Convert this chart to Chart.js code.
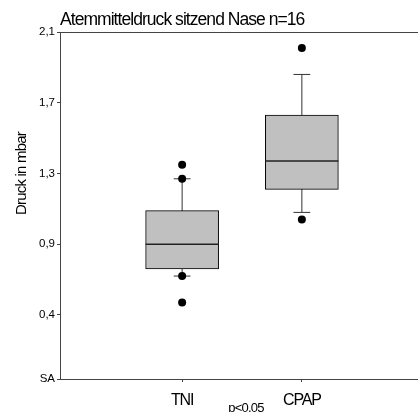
<!DOCTYPE html>
<html>
<head>
<meta charset="utf-8">
<script src="https://cdn.jsdelivr.net/npm/chart.js@4/dist/chart.umd.min.js"></script>
<style>
  html, body { margin: 0; padding: 0; background: #fff; }
  #wrap { width: 418px; height: 412px; }
</style>
</head>
<body>
<div id="wrap"><canvas id="chart"></canvas></div>
<script>
// box plot data (axis units)
const groups = ["TNI", "CPAP"];
const groupPos = [1, 2];
const q1 = [0.76, 1.21];
const median = [0.90, 1.37];
const q3 = [1.09, 1.63];
const whiskerLow = [0.72, 1.08];
const whiskerHigh = [1.27, 1.86];
const outliers = [
    [1.35, 1.27, 0.72, 0.57],
    [2.01, 1.04]
];

const yTickValues = [0.138, 0.5, 0.9, 1.3, 1.7, 2.1];
const yTickLabels = ["SA", "0,4", "0,9", "1,3", "1,7", "2,1"];

const chartTitle = "Atemmitteldruck sitzend Nase n=16";
const yTitle = "Druck in mbar";
const pNote = "p<0.05";

const FONT = "'Liberation Sans', Arial, sans-serif";
const AXIS = "#444";

// linear scale that draws its texts with tighter letter spacing
class SpacedScale extends Chart.LinearScale {
    draw(area) {
        this.ctx.letterSpacing = this.options.letterSpacing || "0px";
        super.draw(area);
        this.ctx.letterSpacing = "0px";
    }
}
SpacedScale.id = "spaced";
SpacedScale.defaults = Chart.LinearScale.defaults;
Chart.register(SpacedScale);

function segments(list) {
    // flatten [[p1, p2], ...] into one line with gaps between the pieces
    let out = [];
    list.forEach(function(seg) {
        out.push(seg[0], seg[1], {x: seg[1].x, y: null});
    });
    return out;
}

let boxData = groupPos.map(function(x, i) {
    return {x: x, y: [q1[i], q3[i]]};
});
let whiskerData = segments(groupPos.map(function(x, i) {
    return [{x: x, y: whiskerLow[i]}, {x: x, y: whiskerHigh[i]}];
}));
let capData = segments([].concat.apply([], groupPos.map(function(x, i) {
    return [
        [{x: x - 0.07, y: whiskerLow[i]}, {x: x + 0.07, y: whiskerLow[i]}],
        [{x: x - 0.07, y: whiskerHigh[i]}, {x: x + 0.07, y: whiskerHigh[i]}]
    ];
})));
let medianData = segments(groupPos.map(function(x, i) {
    return [{x: x - 0.305, y: median[i]}, {x: x + 0.305, y: median[i]}];
}));
let outlierData = [];
outliers.forEach(function(list, i) {
    list.forEach(function(v) {
        outlierData.push({x: groupPos[i], y: v});
    });
});

const textPlugin = {
    id: "extraText",
    afterDraw(chart) {
        let ctx = chart.ctx;
        let xs = chart.scales.x;
        let ys = chart.scales.y;
        ctx.save();
        ctx.fillStyle = "#000";
        ctx.letterSpacing = "-0.8px";
        ctx.textAlign = "center";
        ctx.textBaseline = "alphabetic";
        ctx.font = "15px " + FONT;
        ctx.translate(26, ys.getPixelForValue(1.30));
        ctx.rotate(-Math.PI / 2);
        ctx.fillText(yTitle, 0, 0);
        ctx.restore();

        ctx.save();
        ctx.fillStyle = "#000";
        ctx.letterSpacing = "-0.8px";
        ctx.textAlign = "center";
        ctx.textBaseline = "alphabetic";
        ctx.font = "13px " + FONT;
        ctx.fillText(pNote, xs.getPixelForValue(1.5) + 4, 412);
        ctx.restore();
    }
};

let ctx = document.getElementById("chart").getContext("2d");
let chart = new Chart(ctx, {
    type: "bar",
    data: {
        datasets: [
            {
                type: "line",
                data: whiskerData,
                borderColor: "#333",
                borderWidth: 1,
                pointRadius: 0,
                spanGaps: false,
                order: 4
            },
            {
                type: "bar",
                data: boxData,
                backgroundColor: "#c0c0c0",
                borderColor: "#000",
                borderWidth: 1,
                borderSkipped: false,
                barThickness: 73,
                order: 3
            },
            {
                type: "line",
                data: medianData,
                borderColor: "#222",
                borderWidth: 1.5,
                pointRadius: 0,
                spanGaps: false,
                order: 2
            },
            {
                type: "line",
                data: capData,
                borderColor: "#333",
                borderWidth: 1,
                pointRadius: 0,
                spanGaps: false,
                order: 1
            },
            {
                type: "scatter",
                data: outlierData,
                backgroundColor: "#000",
                borderWidth: 0,
                pointRadius: 4,
                order: 0
            }
        ]
    },
    options: {
        responsive: true,
        maintainAspectRatio: false,
        animation: false,
        layout: { padding: 0, autoPadding: false },
        plugins: {
            legend: { display: false },
            tooltip: { enabled: false }
        },
        scales: {
            x: {
                type: "spaced",
                position: "bottom",
                offset: false,
                min: -0.02,
                max: 2.97,
                letterSpacing: "-1.2px",
                afterBuildTicks: function(scale) {
                    scale.ticks = groupPos.map(function(v) { return {value: v}; });
                },
                afterFit: function(scale) { scale.height = 33; },
                ticks: {
                    color: "#000",
                    font: { family: FONT, size: 16 },
                    padding: 9,
                    maxRotation: 0,
                    callback: function(v, i) { return groups[i]; }
                },
                grid: { offset: false, drawOnChartArea: false, drawTicks: true, tickLength: 3, color: AXIS },
                border: { color: AXIS, width: 1 }
            },
            top: {
                type: "spaced",
                position: "top",
                offset: false,
                min: -0.02,
                max: 2.97,
                letterSpacing: "-0.95px",
                afterFit: function(scale) { scale.height = 32; },
                ticks: { display: false },
                grid: { display: false, offset: false },
                border: { display: true, color: AXIS, width: 1 },
                title: {
                    display: true,
                    text: chartTitle,
                    align: "start",
                    color: "#000",
                    font: { family: FONT, size: 17.5 },
                    padding: { top: 10, bottom: 0 }
                }
            },
            y: {
                type: "linear",
                min: 0.138,
                max: 2.1,
                afterBuildTicks: function(scale) {
                    scale.ticks = yTickValues.map(function(v) { return {value: v}; });
                },
                afterFit: function(scale) { scale.width = 60; },
                ticks: {
                    color: "#000",
                    font: { family: FONT, size: 11.5 },
                    padding: 2,
                    callback: function(v, i) { return yTickLabels[i]; }
                },
                grid: { drawOnChartArea: false, drawTicks: true, tickLength: 3, color: AXIS },
                border: { color: AXIS, width: 1 }
            }
        }
    },
    plugins: [textPlugin]
});
</script>
</body>
</html>
